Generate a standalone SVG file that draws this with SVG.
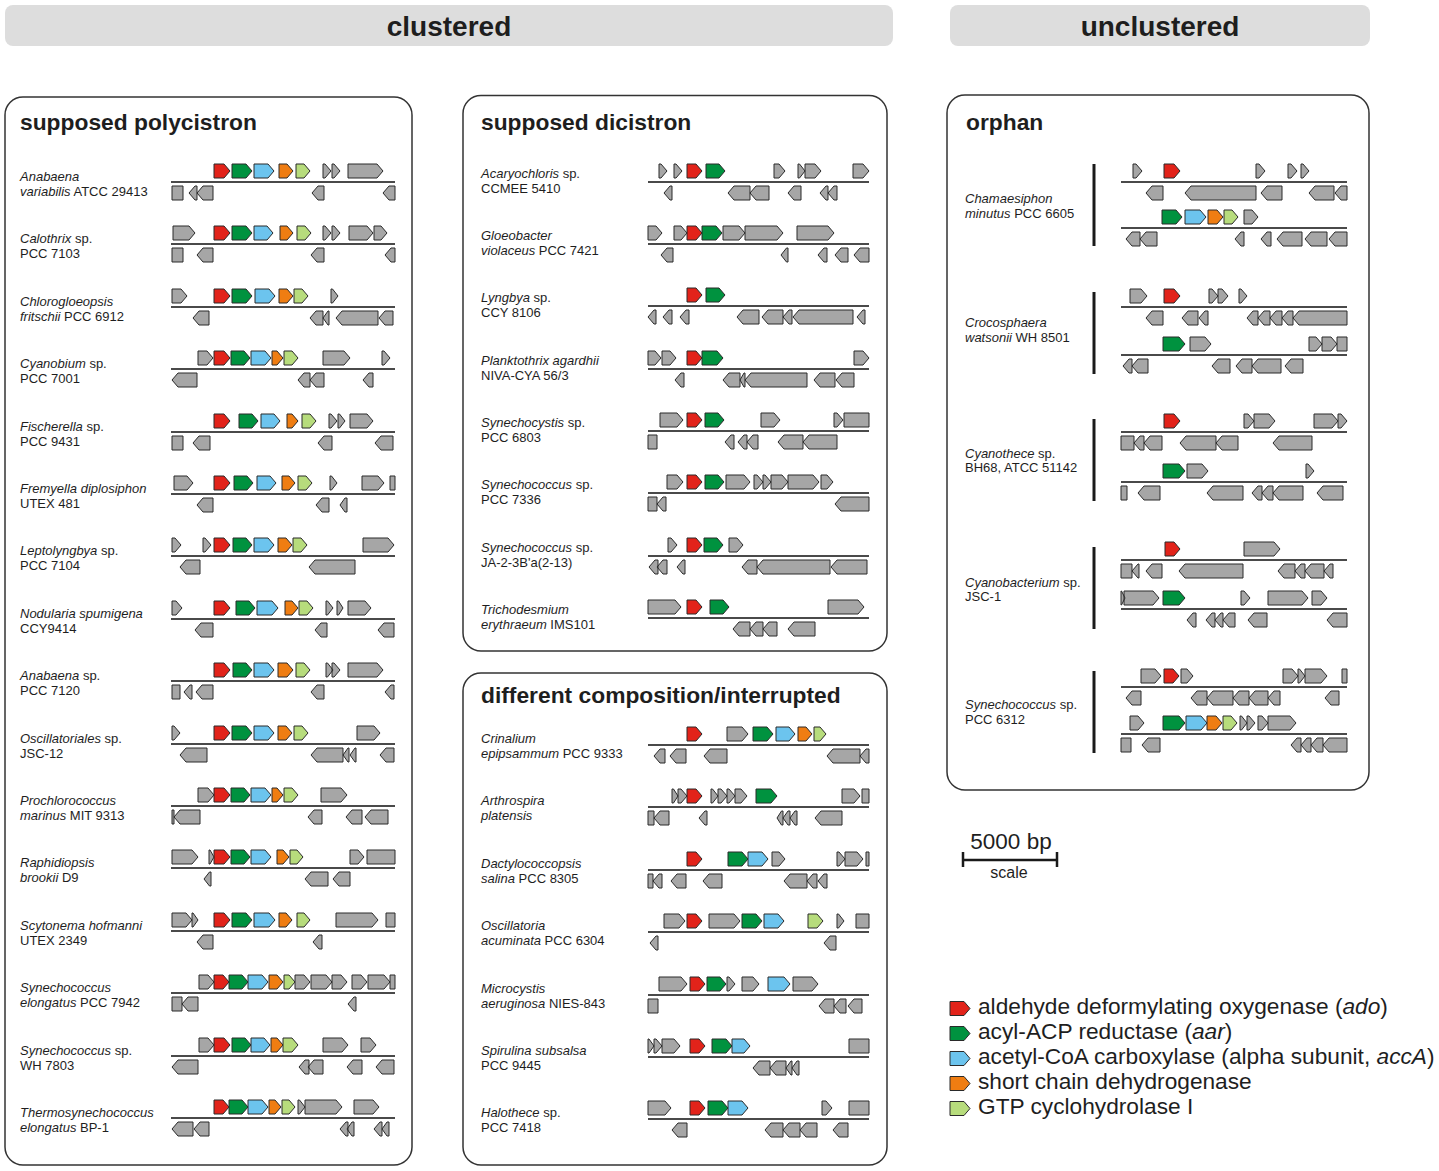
<svg xmlns="http://www.w3.org/2000/svg" width="1439" height="1171" viewBox="0 0 1439 1171">
<style>
.t{font-family:"Liberation Sans",Arial,sans-serif;fill:#1e1e1e}
.lb{font-size:13px}
.i{font-style:italic}
.h{font-size:28px;font-weight:bold;text-anchor:middle}
.pt{font-size:22.8px;font-weight:bold}
.box{fill:#fff;stroke:#333;stroke-width:1.5}
.hb{fill:#dddddd}
.ln{stroke:#4a4a4a;stroke-width:2;fill:none}
.g,.r,.n,.b,.o,.y{stroke:#2a2a2a;stroke-width:1}
.g{fill:#a6a6a6}.r{fill:#e2231a}.n{fill:#00923f}.b{fill:#6cc4ee}.o{fill:#ef7d12}.y{fill:#b7dc7c}
.vb{stroke:#1a1a1a;stroke-width:3}
.sc{stroke:#1a1a1a;stroke-width:2.5;fill:none}
.lg{font-size:22.7px}
</style>
<rect fill="#fff" x="0" y="0" width="1439" height="1171"/>
<g id="headers">
<rect class="hb" x="5" y="5" width="888" height="41" rx="8"/>
<text class="t h" x="449" y="36">clustered</text>
<rect class="hb" x="950" y="5" width="420" height="41" rx="8"/>
<text class="t h" x="1160" y="36">unclustered</text>
</g>

<g id="panel-polycistron">
<rect class="box" x="5" y="97" width="407" height="1068" rx="18"/>
<text class="t pt" x="20" y="130">supposed polycistron</text>
<g id="p1-r0" transform="translate(0,182)">
<text class="t lb" x="20" y="-1.5"><tspan class="i">Anabaena</tspan></text>
<text class="t lb" x="20" y="13.5"><tspan class="i">variabilis</tspan> ATCC 29413</text>
<path class="ln" d="M171 0H395"/>
<path class="r" d="M214-18H224L230-11L224-4H214Z"/>
<path class="n" d="M232-18H246L252-11L246-4H232Z"/>
<path class="b" d="M254-18H268L274-11L268-4H254Z"/>
<path class="o" d="M279-18H287L293-11L287-4H279Z"/>
<path class="y" d="M296-18H304L310-11L304-4H296Z"/>
<path class="g" d="M323-18H325L331-11L325-4H323Z M332-18H334L340-11L334-4H332Z M348-18H377L383-11L377-4H348Z M172 4H183V18H172Z M189 11L195 4H197V18H195Z M197 11L203 4H213V18H203Z M312 11L318 4H324V18H318Z M383 11L389 4H395V18H389Z"/>
</g>
<g id="p1-r1" transform="translate(0,244)">
<text class="t lb" x="20" y="-1.5"><tspan class="i">Calothrix</tspan> sp.</text>
<text class="t lb" x="20" y="13.5">PCC 7103</text>
<path class="ln" d="M171 0H395"/>
<path class="r" d="M214-18H224L230-11L224-4H214Z"/>
<path class="n" d="M232-18H246L252-11L246-4H232Z"/>
<path class="b" d="M254-18H267L273-11L267-4H254Z"/>
<path class="o" d="M280-18H287L293-11L287-4H280Z"/>
<path class="y" d="M297-18H305L311-11L305-4H297Z"/>
<path class="g" d="M173-18H189L195-11L189-4H173Z M323-18H325L331-11L325-4H323Z M332-18H334L340-11L334-4H332Z M349-18H367L373-11L367-4H349Z M374-18H381L387-11L381-4H374Z M172 4H183V18H172Z M197 11L203 4H213V18H203Z M311 11L317 4H324V18H317Z M385 11L391 4H395V18H391Z"/>
</g>
<g id="p1-r2" transform="translate(0,307)">
<text class="t lb" x="20" y="-1.5"><tspan class="i">Chlorogloeopsis</tspan></text>
<text class="t lb" x="20" y="13.5"><tspan class="i">fritschii</tspan> PCC 6912</text>
<path class="ln" d="M171 0H395"/>
<path class="r" d="M214-18H224L230-11L224-4H214Z"/>
<path class="n" d="M232-18H246L252-11L246-4H232Z"/>
<path class="b" d="M255-18H269L275-11L269-4H255Z"/>
<path class="o" d="M279-18H287L293-11L287-4H279Z"/>
<path class="y" d="M294-18H302L308-11L302-4H294Z"/>
<path class="g" d="M172-18H181L187-11L181-4H172Z M331-18H332.5L338-11L332.5-4H331Z M193 11L199 4H209V18H199Z M310 11L316 4H323V18H316Z M323 11L328 4H329V18H328Z M336 11L342 4H378V18H342Z M379 11L385 4H393V18H385Z"/>
</g>
<g id="p1-r3" transform="translate(0,369)">
<text class="t lb" x="20" y="-1.5"><tspan class="i">Cyanobium</tspan> sp.</text>
<text class="t lb" x="20" y="13.5">PCC 7001</text>
<path class="ln" d="M171 0H395"/>
<path class="r" d="M214-18H224L230-11L224-4H214Z"/>
<path class="n" d="M231-18H244L250-11L244-4H231Z"/>
<path class="b" d="M251-18H265L271-11L265-4H251Z"/>
<path class="o" d="M272-18H277L283-11L277-4H272Z"/>
<path class="y" d="M284-18H292L298-11L292-4H284Z"/>
<path class="g" d="M198-18H207L213-11L207-4H198Z M323-18H344L350-11L344-4H323Z M382-18H384L390-11L384-4H382Z M172 11L178 4H197V18H178Z M298 11L304 4H310V18H304Z M310 11L316 4H324V18H316Z M363 11L369 4H373V18H369Z"/>
</g>
<g id="p1-r4" transform="translate(0,432)">
<text class="t lb" x="20" y="-1.5"><tspan class="i">Fischerella</tspan> sp.</text>
<text class="t lb" x="20" y="13.5">PCC 9431</text>
<path class="ln" d="M171 0H395"/>
<path class="r" d="M214-18H224L230-11L224-4H214Z"/>
<path class="n" d="M239-18H252L258-11L252-4H239Z"/>
<path class="b" d="M261-18H274L280-11L274-4H261Z"/>
<path class="o" d="M287-18H292L298-11L292-4H287Z"/>
<path class="y" d="M302-18H310L316-11L310-4H302Z"/>
<path class="g" d="M329-18H331L337-11L331-4H329Z M338-18H339.5L345-11L339.5-4H338Z M350-18H367L373-11L367-4H350Z M172 4H183V18H172Z M193 11L199 4H210V18H199Z M318 11L324 4H332V18H324Z M375 11L381 4H393V18H381Z"/>
</g>
<g id="p1-r5" transform="translate(0,494)">
<text class="t lb" x="20" y="-1.5"><tspan class="i">Fremyella diplosiphon</tspan></text>
<text class="t lb" x="20" y="13.5">UTEX 481</text>
<path class="ln" d="M171 0H395"/>
<path class="r" d="M214-18H224L230-11L224-4H214Z"/>
<path class="n" d="M234-18H247L253-11L247-4H234Z"/>
<path class="b" d="M257-18H270L276-11L270-4H257Z"/>
<path class="o" d="M282-18H289L295-11L289-4H282Z"/>
<path class="y" d="M298-18H306L312-11L306-4H298Z"/>
<path class="g" d="M174-18H187L193-11L187-4H174Z M330-18H331.5L337-11L331.5-4H330Z M362-18H378L384-11L378-4H362Z M390-18H395V-4H390Z M197 11L203 4H213V18H203Z M316 11L322 4H329V18H322Z M340 11L345 4H347V18H345Z"/>
</g>
<g id="p1-r6" transform="translate(0,556)">
<text class="t lb" x="20" y="-1.5"><tspan class="i">Leptolyngbya</tspan> sp.</text>
<text class="t lb" x="20" y="13.5">PCC 7104</text>
<path class="ln" d="M171 0H395"/>
<path class="r" d="M214-18H224L230-11L224-4H214Z"/>
<path class="n" d="M233-18H246L252-11L246-4H233Z"/>
<path class="b" d="M254-18H268L274-11L268-4H254Z"/>
<path class="o" d="M278-18H286L292-11L286-4H278Z"/>
<path class="y" d="M293-18H301L307-11L301-4H293Z"/>
<path class="g" d="M172-18H175L181-11L175-4H172Z M203-18H205L211-11L205-4H203Z M363-18H388L394-11L388-4H363Z M180 11L186 4H200V18H186Z M309 11L315 4H355V18H315Z"/>
</g>
<g id="p1-r7" transform="translate(0,619)">
<text class="t lb" x="20" y="-1.5"><tspan class="i">Nodularia spumigena</tspan></text>
<text class="t lb" x="20" y="13.5">CCY9414</text>
<path class="ln" d="M171 0H395"/>
<path class="r" d="M214-18H224L230-11L224-4H214Z"/>
<path class="n" d="M236-18H249L255-11L249-4H236Z"/>
<path class="b" d="M257-18H272L278-11L272-4H257Z"/>
<path class="o" d="M285-18H292L298-11L292-4H285Z"/>
<path class="y" d="M299-18H307L313-11L307-4H299Z"/>
<path class="g" d="M172-18H176L182-11L176-4H172Z M326-18H327.5L333-11L327.5-4H326Z M337-18H338.5L343-11L338.5-4H337Z M348-18H365L371-11L365-4H348Z M195 11L201 4H213V18H201Z M315 11L321 4H327V18H321Z M378 11L384 4H394V18H384Z"/>
</g>
<g id="p1-r8" transform="translate(0,681)">
<text class="t lb" x="20" y="-1.5"><tspan class="i">Anabaena</tspan> sp.</text>
<text class="t lb" x="20" y="13.5">PCC 7120</text>
<path class="ln" d="M171 0H395"/>
<path class="r" d="M214-18H224L230-11L224-4H214Z"/>
<path class="n" d="M233-18H246L252-11L246-4H233Z"/>
<path class="b" d="M254-18H268L274-11L268-4H254Z"/>
<path class="o" d="M278-18H287L293-11L287-4H278Z"/>
<path class="y" d="M296-18H304L310-11L304-4H296Z"/>
<path class="g" d="M326-18H327.5L333-11L327.5-4H326Z M332-18H334L340-11L334-4H332Z M348-18H377L383-11L377-4H348Z M172 4H180V18H172Z M184 11L190 4H192V18H190Z M196 11L202 4H213V18H202Z M311 11L317 4H324V18H317Z M385 11L391 4H394V18H391Z"/>
</g>
<g id="p1-r9" transform="translate(0,744)">
<text class="t lb" x="20" y="-1.5"><tspan class="i">Oscillatoriales</tspan> sp.</text>
<text class="t lb" x="20" y="13.5">JSC-12</text>
<path class="ln" d="M171 0H395"/>
<path class="r" d="M214-18H224L230-11L224-4H214Z"/>
<path class="n" d="M232-18H246L252-11L246-4H232Z"/>
<path class="b" d="M254-18H268L274-11L268-4H254Z"/>
<path class="o" d="M278-18H286L292-11L286-4H278Z"/>
<path class="y" d="M294-18H302L308-11L302-4H294Z"/>
<path class="g" d="M172-18H174L180-11L174-4H172Z M357-18H374L380-11L374-4H357Z M180 11L186 4H207V18H186Z M311 11L317 4H343V18H317Z M343 11L348 4H349V18H348Z M350 11L355 4H356V18H355Z M380 11L386 4H394V18H386Z"/>
</g>
<g id="p1-r10" transform="translate(0,806)">
<text class="t lb" x="20" y="-1.5"><tspan class="i">Prochlorococcus</tspan></text>
<text class="t lb" x="20" y="13.5"><tspan class="i">marinus</tspan> MIT 9313</text>
<path class="ln" d="M171 0H395"/>
<path class="r" d="M214-18H224L230-11L224-4H214Z"/>
<path class="n" d="M231-18H244L250-11L244-4H231Z"/>
<path class="b" d="M251-18H265L271-11L265-4H251Z"/>
<path class="o" d="M272-18H277L283-11L277-4H272Z"/>
<path class="y" d="M284-18H292L298-11L292-4H284Z"/>
<path class="g" d="M198-18H208L214-11L208-4H198Z M321-18H341L347-11L341-4H321Z M172 4H174V18H172Z M174 11L180 4H200V18H180Z M308 11L314 4H322V18H314Z M346 11L352 4H362V18H352Z M365 11L371 4H388V18H371Z"/>
</g>
<g id="p1-r11" transform="translate(0,868)">
<text class="t lb" x="20" y="-1.5"><tspan class="i">Raphidiopsis</tspan></text>
<text class="t lb" x="20" y="13.5"><tspan class="i">brookii</tspan> D9</text>
<path class="ln" d="M171 0H395"/>
<path class="r" d="M214-18H224L230-11L224-4H214Z"/>
<path class="n" d="M231-18H244L250-11L244-4H231Z"/>
<path class="b" d="M251-18H265L271-11L265-4H251Z"/>
<path class="o" d="M277-18H283L289-11L283-4H277Z"/>
<path class="y" d="M290-18H297L303-11L297-4H290Z"/>
<path class="g" d="M172-18H192L198-11L192-4H172Z M209-18H210L214-11L210-4H209Z M350-18H358L364-11L358-4H350Z M367-18H395V-4H367Z M204 11L209.5 4H211V18H209.5Z M305 11L311 4H328V18H311Z M333 11L339 4H350V18H339Z"/>
</g>
<g id="p1-r12" transform="translate(0,931)">
<text class="t lb" x="20" y="-1.5"><tspan class="i">Scytonema hofmanni</tspan></text>
<text class="t lb" x="20" y="13.5">UTEX 2349</text>
<path class="ln" d="M171 0H395"/>
<path class="r" d="M214-18H224L230-11L224-4H214Z"/>
<path class="n" d="M232-18H246L252-11L246-4H232Z"/>
<path class="b" d="M254-18H269L275-11L269-4H254Z"/>
<path class="o" d="M279-18H286L292-11L286-4H279Z"/>
<path class="y" d="M297-18H304L310-11L304-4H297Z"/>
<path class="g" d="M172-18H186L192-11L186-4H172Z M192-18H193L198-11L193-4H192Z M336-18H372L378-11L372-4H336Z M386-18H395V-4H386Z M197 11L203 4H213V18H203Z M313 11L319 4H322V18H319Z"/>
</g>
<g id="p1-r13" transform="translate(0,993)">
<text class="t lb" x="20" y="-1.5"><tspan class="i">Synechococcus</tspan></text>
<text class="t lb" x="20" y="13.5"><tspan class="i">elongatus</tspan> PCC 7942</text>
<path class="ln" d="M171 0H395"/>
<path class="r" d="M214-18H223L229-11L223-4H214Z"/>
<path class="n" d="M229-18H242L248-11L242-4H229Z"/>
<path class="b" d="M248-18H262L268-11L262-4H248Z"/>
<path class="o" d="M269-18H277L283-11L277-4H269Z"/>
<path class="y" d="M284-18H289L295-11L289-4H284Z"/>
<path class="g" d="M199-18H208L214-11L208-4H199Z M295-18H304L310-11L304-4H295Z M311-18H326L332-11L326-4H311Z M332-18H341L347-11L341-4H332Z M352-18H361L367-11L361-4H352Z M368-18H384L390-11L384-4H368Z M390-18H395V-4H390Z M172 4H182V18H172Z M182 11L188 4H198V18H188Z M348 11L354 4H356V18H354Z"/>
</g>
<g id="p1-r14" transform="translate(0,1056)">
<text class="t lb" x="20" y="-1.5"><tspan class="i">Synechococcus</tspan> sp.</text>
<text class="t lb" x="20" y="13.5">WH 7803</text>
<path class="ln" d="M171 0H395"/>
<path class="r" d="M214-18H224L230-11L224-4H214Z"/>
<path class="n" d="M232-18H245L251-11L245-4H232Z"/>
<path class="b" d="M251-18H264L270-11L264-4H251Z"/>
<path class="o" d="M271-18H277L283-11L277-4H271Z"/>
<path class="y" d="M283-18H292L298-11L292-4H283Z"/>
<path class="g" d="M199-18H208L214-11L208-4H199Z M323-18H342L348-11L342-4H323Z M361-18H370L376-11L370-4H361Z M172 11L178 4H198V18H178Z M299 11L305 4H309V18H305Z M308 11L314 4H323V18H314Z M347 11L353 4H362V18H353Z M376 11L382 4H394V18H382Z"/>
</g>
<g id="p1-r15" transform="translate(0,1118)">
<text class="t lb" x="20" y="-1.5"><tspan class="i">Thermosynechococcus</tspan></text>
<text class="t lb" x="20" y="13.5"><tspan class="i">elongatus</tspan> BP-1</text>
<path class="ln" d="M171 0H395"/>
<path class="r" d="M214-18H223L229-11L223-4H214Z"/>
<path class="n" d="M229-18H242L248-11L242-4H229Z"/>
<path class="b" d="M248-18H262L268-11L262-4H248Z"/>
<path class="o" d="M269-18H275L281-11L275-4H269Z"/>
<path class="y" d="M282-18H289L295-11L289-4H282Z"/>
<path class="g" d="M298-18H299.5L305-11L299.5-4H298Z M305-18H336L342-11L336-4H305Z M354-18H373L379-11L373-4H354Z M172 11L178 4H193V18H178Z M194 11L200 4H209V18H200Z M340 11L346 4H348V18H346Z M347 11L352 4H354V18H352Z M374 11L380 4H382V18H380Z M382 11L387 4H389V18H387Z"/>
</g>
</g>

<g id="panel-dicistron">
<rect class="box" x="463" y="95.5" width="424" height="555.5" rx="18"/>
<text class="t pt" x="481" y="130">supposed dicistron</text>
<g id="p2-r0" transform="translate(0,182)">
<text class="t lb" x="481" y="-4"><tspan class="i">Acaryochloris</tspan> sp.</text>
<text class="t lb" x="481" y="11">CCMEE 5410</text>
<path class="ln" d="M648 0H869"/>
<path class="r" d="M687-18H696L702-11L696-4H687Z"/>
<path class="n" d="M706-18H719L725-11L719-4H706Z"/>
<path class="g" d="M659-18H661L667-11L661-4H659Z M674-18H676L682-11L676-4H674Z M774-18H779L785-11L779-4H774Z M798-18H799.5L805-11L799.5-4H798Z M805-18H815L821-11L815-4H805Z M853-18H863L869-11L863-4H853Z M664 11L670 4H672V18H670Z M728 11L734 4H750V18H734Z M750 11L756 4H769V18H756Z M788 11L794 4H801V18H794Z M820 11L826 4H828V18H826Z M828 11L834 4H837V18H834Z"/>
</g>
<g id="p2-r1" transform="translate(0,244)">
<text class="t lb" x="481" y="-4"><tspan class="i">Gloeobacter</tspan></text>
<text class="t lb" x="481" y="11"><tspan class="i">violaceus</tspan> PCC 7421</text>
<path class="ln" d="M648 0H869"/>
<path class="r" d="M687-18H696L702-11L696-4H687Z"/>
<path class="n" d="M702-18H716L722-11L716-4H702Z"/>
<path class="g" d="M648-18H656L662-11L656-4H648Z M674-18H681L687-11L681-4H674Z M723-18H739L745-11L739-4H723Z M745-18H777L783-11L777-4H745Z M797-18H828L834-11L828-4H797Z M661 11L667 4H673V18H667Z M781 11L786.5 4H788V18H786.5Z M818 11L824 4H827V18H824Z M835 11L841 4H848V18H841Z M854 11L860 4H869V18H860Z"/>
</g>
<g id="p2-r2" transform="translate(0,306)">
<text class="t lb" x="481" y="-4"><tspan class="i">Lyngbya</tspan> sp.</text>
<text class="t lb" x="481" y="11">CCY 8106</text>
<path class="ln" d="M648 0H869"/>
<path class="r" d="M687-18H696L702-11L696-4H687Z"/>
<path class="n" d="M706-18H719L725-11L719-4H706Z"/>
<path class="g" d="M648 11L654 4H656V18H654Z M663 11L669 4H672V18H669Z M680 11L686 4H689V18H686Z M737 11L743 4H759V18H743Z M762 11L768 4H783V18H768Z M783 11L789 4H792V18H789Z M793 11L799 4H853V18H799Z M857 11L863 4H865V18H863Z"/>
</g>
<g id="p2-r3" transform="translate(0,369)">
<text class="t lb" x="481" y="-4"><tspan class="i">Planktothrix agardhii</tspan></text>
<text class="t lb" x="481" y="11">NIVA-CYA 56/3</text>
<path class="ln" d="M648 0H869"/>
<path class="r" d="M687-18H696L702-11L696-4H687Z"/>
<path class="n" d="M702-18H717L723-11L717-4H702Z"/>
<path class="g" d="M648-18H655L661-11L655-4H648Z M662-18H670L676-11L670-4H662Z M854-18H863L869-11L863-4H854Z M675 11L681 4H684V18H681Z M723 11L729 4H740V18H729Z M740 11L744 4H745V18H744Z M745 11L751 4H807V18H751Z M814 11L820 4H835V18H820Z M836 11L842 4H854V18H842Z"/>
</g>
<g id="p2-r4" transform="translate(0,431)">
<text class="t lb" x="481" y="-4"><tspan class="i">Synechocystis</tspan> sp.</text>
<text class="t lb" x="481" y="11">PCC 6803</text>
<path class="ln" d="M648 0H869"/>
<path class="r" d="M687-18H696L702-11L696-4H687Z"/>
<path class="n" d="M705-18H718L724-11L718-4H705Z"/>
<path class="g" d="M660-18H677L683-11L677-4H660Z M761-18H774L780-11L774-4H761Z M834-18H837L843-11L837-4H834Z M844-18H869V-4H844Z M648 4H657V18H648Z M725 11L731 4H734V18H731Z M738 11L744 4H747V18H744Z M747 11L753 4H758V18H753Z M778 11L784 4H803V18H784Z M803 11L809 4H837V18H809Z"/>
</g>
<g id="p2-r5" transform="translate(0,493)">
<text class="t lb" x="481" y="-4"><tspan class="i">Synechococcus</tspan> sp.</text>
<text class="t lb" x="481" y="11">PCC 7336</text>
<path class="ln" d="M648 0H869"/>
<path class="r" d="M687-18H696L702-11L696-4H687Z"/>
<path class="n" d="M705-18H718L724-11L718-4H705Z"/>
<path class="g" d="M667-18H677L683-11L677-4H667Z M726-18H744L750-11L744-4H726Z M754-18H757L763-11L757-4H754Z M763-18H765L771-11L765-4H763Z M771-18H782L788-11L782-4H771Z M788-18H813L819-11L813-4H788Z M821-18H827L833-11L827-4H821Z M648 4H657V18H648Z M657 11L663 4H666V18H663Z M835 11L841 4H869V18H841Z"/>
</g>
<g id="p2-r6" transform="translate(0,556)">
<text class="t lb" x="481" y="-4"><tspan class="i">Synechococcus</tspan> sp.</text>
<text class="t lb" x="481" y="11">JA-2-3B'a(2-13)</text>
<path class="ln" d="M648 0H869"/>
<path class="r" d="M687-18H696L702-11L696-4H687Z"/>
<path class="n" d="M704-18H717L723-11L717-4H704Z"/>
<path class="g" d="M668-18H671L677-11L671-4H668Z M729-18H737L743-11L737-4H729Z M649 11L655 4H658V18H655Z M657 11L663 4H667V18H663Z M677 11L683 4H685V18H683Z M742 11L748 4H757V18H748Z M757 11L763 4H830V18H763Z M831 11L837 4H867V18H837Z"/>
</g>
<g id="p2-r7" transform="translate(0,618)">
<text class="t lb" x="481" y="-4"><tspan class="i">Trichodesmium</tspan></text>
<text class="t lb" x="481" y="11"><tspan class="i">erythraeum</tspan> IMS101</text>
<path class="ln" d="M648 0H869"/>
<path class="r" d="M687-18H696L702-11L696-4H687Z"/>
<path class="n" d="M710-18H723L729-11L723-4H710Z"/>
<path class="g" d="M648-18H675L681-11L675-4H648Z M828-18H858L864-11L858-4H828Z M733 11L739 4H750V18H739Z M750 11L756 4H763V18H756Z M763 11L769 4H777V18H769Z M788 11L794 4H815V18H794Z"/>
</g>
</g>

<g id="panel-different">
<rect class="box" x="463" y="673" width="424" height="492" rx="18"/>
<text class="t pt" x="481" y="703">different composition/interrupted</text>
<g id="p3-r0" transform="translate(0,745)">
<text class="t lb" x="481" y="-2.5"><tspan class="i">Crinalium</tspan></text>
<text class="t lb" x="481" y="12.5"><tspan class="i">epipsammum</tspan> PCC 9333</text>
<path class="ln" d="M648 0H869"/>
<path class="r" d="M687-18H696L702-11L696-4H687Z"/>
<path class="n" d="M753-18H767L773-11L767-4H753Z"/>
<path class="b" d="M776-18H789L795-11L789-4H776Z"/>
<path class="o" d="M798-18H806L812-11L806-4H798Z"/>
<path class="y" d="M814-18H820L826-11L820-4H814Z"/>
<path class="g" d="M727-18H742L748-11L742-4H727Z M654 11L660 4H665V18H660Z M670 11L676 4H686V18H676Z M704 11L710 4H727V18H710Z M827 11L833 4H860V18H833Z M860 11L866 4H869V18H866Z"/>
</g>
<g id="p3-r1" transform="translate(0,807)">
<text class="t lb" x="481" y="-2.5"><tspan class="i">Arthrospira</tspan></text>
<text class="t lb" x="481" y="12.5"><tspan class="i">platensis</tspan></text>
<path class="ln" d="M648 0H869"/>
<path class="r" d="M687-18H696L702-11L696-4H687Z"/>
<path class="n" d="M756-18H771L777-11L771-4H756Z"/>
<path class="g" d="M672-18H673.5L678-11L673.5-4H672Z M678-18H681L687-11L681-4H678Z M711-18H712.5L718-11L712.5-4H711Z M718-18H721L727-11L721-4H718Z M727-18H729L735-11L729-4H727Z M735-18H741L747-11L741-4H735Z M842-18H854L860-11L854-4H842Z M862-18H869V-4H862Z M648 4H654V18H648Z M654 11L660 4H669V18H660Z M699 11L705 4H707V18H705Z M777 11L781.5 4H783V18H781.5Z M783 11L788 4H790V18H788Z M790 11L795 4H797V18H795Z M815 11L821 4H842V18H821Z"/>
</g>
<g id="p3-r2" transform="translate(0,870)">
<text class="t lb" x="481" y="-2.5"><tspan class="i">Dactylococcopsis</tspan></text>
<text class="t lb" x="481" y="12.5"><tspan class="i">salina</tspan> PCC 8305</text>
<path class="ln" d="M648 0H869"/>
<path class="r" d="M687-18H696L702-11L696-4H687Z"/>
<path class="n" d="M728-18H742L748-11L742-4H728Z"/>
<path class="b" d="M748-18H762L768-11L762-4H748Z"/>
<path class="g" d="M772-18H779L785-11L779-4H772Z M837-18H839L845-11L839-4H837Z M845-18H857L863-11L857-4H845Z M866-18H869V-4H866Z M648 4H653V18H648Z M653 11L659 4H662V18H659Z M671 11L677 4H686V18H677Z M703 11L709 4H722V18H709Z M784 11L790 4H807V18H790Z M807 11L813 4H817V18H813Z M818 11L824 4H827V18H824Z"/>
</g>
<g id="p3-r3" transform="translate(0,932)">
<text class="t lb" x="481" y="-2.5"><tspan class="i">Oscillatoria</tspan></text>
<text class="t lb" x="481" y="12.5"><tspan class="i">acuminata</tspan> PCC 6304</text>
<path class="ln" d="M648 0H869"/>
<path class="r" d="M687-18H696L702-11L696-4H687Z"/>
<path class="n" d="M742-18H756L762-11L756-4H742Z"/>
<path class="b" d="M764-18H778L784-11L778-4H764Z"/>
<path class="y" d="M808-18H817L823-11L817-4H808Z"/>
<path class="g" d="M664-18H679L685-11L679-4H664Z M709-18H734L740-11L734-4H709Z M837-18H838.5L844-11L838.5-4H837Z M856-18H869V-4H856Z M650 11L656 4H658V18H656Z M824 11L830 4H836V18H830Z"/>
</g>
<g id="p3-r4" transform="translate(0,995)">
<text class="t lb" x="481" y="-2.5"><tspan class="i">Microcystis</tspan></text>
<text class="t lb" x="481" y="12.5"><tspan class="i">aeruginosa</tspan> NIES-843</text>
<path class="ln" d="M648 0H869"/>
<path class="r" d="M690-18H699L705-11L699-4H690Z"/>
<path class="n" d="M707-18H720L726-11L720-4H707Z"/>
<path class="b" d="M768-18H784L790-11L784-4H768Z"/>
<path class="g" d="M659-18H681L687-11L681-4H659Z M727-18H729L735-11L729-4H727Z M742-18H753L759-11L753-4H742Z M793-18H812L818-11L812-4H793Z M648 4H658V18H648Z M819 11L825 4H834V18H825Z M834 11L840 4H846V18H840Z M848 11L854 4H862V18H854Z"/>
</g>
<g id="p3-r5" transform="translate(0,1057)">
<text class="t lb" x="481" y="-2.5"><tspan class="i">Spirulina subsalsa</tspan></text>
<text class="t lb" x="481" y="12.5">PCC 9445</text>
<path class="ln" d="M648 0H869"/>
<path class="r" d="M690-18H699L705-11L699-4H690Z"/>
<path class="n" d="M712-18H726L732-11L726-4H712Z"/>
<path class="b" d="M732-18H744L750-11L744-4H732Z"/>
<path class="g" d="M648-18H649L654-11L649-4H648Z M654-18H656L662-11L656-4H654Z M662-18H674L680-11L674-4H662Z M849-18H869V-4H849Z M753 11L759 4H770V18H759Z M770 11L776 4H786V18H776Z M786 11L791 4H792V18H791Z M792 11L797 4H799V18H797Z"/>
</g>
<g id="p3-r6" transform="translate(0,1119)">
<text class="t lb" x="481" y="-2.5"><tspan class="i">Halothece</tspan> sp.</text>
<text class="t lb" x="481" y="12.5">PCC 7418</text>
<path class="ln" d="M648 0H869"/>
<path class="r" d="M690-18H699L705-11L699-4H690Z"/>
<path class="n" d="M708-18H722L728-11L722-4H708Z"/>
<path class="b" d="M728-18H742L748-11L742-4H728Z"/>
<path class="g" d="M648-18H665L671-11L665-4H648Z M822-18H826L832-11L826-4H822Z M849-18H869V-4H849Z M672 11L678 4H687V18H678Z M765 11L771 4H783V18H771Z M783 11L789 4H800V18H789Z M800 11L806 4H817V18H806Z M833 11L839 4H848V18H839Z"/>
</g>
</g>

<g id="panel-orphan">
<rect class="box" x="947" y="95" width="422" height="695" rx="18"/>
<text class="t pt" x="966" y="130">orphan</text>
<g id="o-chamaesiphon">
<text class="t lb" x="965" y="203"><tspan class="i">Chamaesiphon</tspan></text>
<text class="t lb" x="965" y="218"><tspan class="i">minutus</tspan> PCC 6605</text>
<path class="vb" d="M1094 164V246"/>
<g transform="translate(0,182)">
<path class="ln" d="M1121 0H1347"/>
<path class="r" d="M1164-18H1174L1180-11L1174-4H1164Z"/>
<path class="g" d="M1133-18H1136L1142-11L1136-4H1133Z M1256-18H1259L1265-11L1259-4H1256Z M1288-18H1291L1297-11L1291-4H1288Z M1301-18H1303L1309-11L1303-4H1301Z M1146 11L1152 4H1163V18H1152Z M1185 11L1191 4H1256V18H1191Z M1261 11L1267 4H1282V18H1267Z M1309 11L1315 4H1334V18H1315Z M1335 11L1341 4H1347V18H1341Z"/>
</g>
<g transform="translate(0,228)">
<path class="ln" d="M1121 0H1347"/>
<path class="n" d="M1162-18H1176L1182-11L1176-4H1162Z"/>
<path class="b" d="M1185-18H1200L1206-11L1200-4H1185Z"/>
<path class="o" d="M1208-18H1217L1223-11L1217-4H1208Z"/>
<path class="y" d="M1224-18H1232L1238-11L1232-4H1224Z"/>
<path class="g" d="M1244-18H1252L1258-11L1252-4H1244Z M1126 11L1132 4H1140V18H1132Z M1140 11L1146 4H1157V18H1146Z M1235 11L1241 4H1244V18H1241Z M1261 11L1267 4H1271V18H1267Z M1277 11L1283 4H1302V18H1283Z M1305 11L1311 4H1327V18H1311Z M1329 11L1335 4H1347V18H1335Z"/>
</g>
</g>
<g id="o-crocosphaera">
<text class="t lb" x="965" y="327"><tspan class="i">Crocosphaera</tspan></text>
<text class="t lb" x="965" y="342"><tspan class="i">watsonii</tspan> WH 8501</text>
<path class="vb" d="M1094 292V374"/>
<g transform="translate(0,307)">
<path class="ln" d="M1121 0H1347"/>
<path class="r" d="M1164-18H1174L1180-11L1174-4H1164Z"/>
<path class="g" d="M1130-18H1141L1147-11L1141-4H1130Z M1209-18H1212L1218-11L1212-4H1209Z M1218-18H1222L1228-11L1222-4H1218Z M1239-18H1241L1247-11L1241-4H1239Z M1146 11L1152 4H1163V18H1152Z M1182 11L1188 4H1198V18H1188Z M1199 11L1205 4H1208V18H1205Z M1247 11L1253 4H1258V18H1253Z M1258 11L1264 4H1270V18H1264Z M1270 11L1276 4H1282V18H1276Z M1282 11L1288 4H1293V18H1288Z M1293 11L1299 4H1347V18H1299Z"/>
</g>
<g transform="translate(0,355)">
<path class="ln" d="M1121 0H1347"/>
<path class="n" d="M1163-18H1179L1185-11L1179-4H1163Z"/>
<path class="g" d="M1190-18H1205L1211-11L1205-4H1190Z M1309-18H1316L1322-11L1316-4H1309Z M1322-18H1331L1337-11L1331-4H1322Z M1337-18H1347V-4H1337Z M1123 11L1129 4H1132V18H1129Z M1132 11L1138 4H1148V18H1138Z M1212 11L1218 4H1230V18H1218Z M1236 11L1242 4H1252V18H1242Z M1252 11L1258 4H1281V18H1258Z M1285 11L1291 4H1303V18H1291Z"/>
</g>
</g>
<g id="o-cyanothece">
<text class="t lb" x="965" y="458"><tspan class="i">Cyanothece</tspan> sp.</text>
<text class="t lb" x="965" y="472">BH68, ATCC 51142</text>
<path class="vb" d="M1094 419V501"/>
<g transform="translate(0,432)">
<path class="ln" d="M1121 0H1347"/>
<path class="r" d="M1164-18H1174L1180-11L1174-4H1164Z"/>
<path class="g" d="M1244-18H1248L1254-11L1248-4H1244Z M1254-18H1269L1275-11L1269-4H1254Z M1314-18H1332L1338-11L1332-4H1314Z M1338-18H1341L1347-11L1341-4H1338Z M1121 4H1134V18H1121Z M1134 11L1140 4H1144V18H1140Z M1144 11L1150 4H1162V18H1150Z M1180 11L1186 4H1216V18H1186Z M1216 11L1222 4H1238V18H1222Z M1273 11L1279 4H1312V18H1279Z"/>
</g>
<g transform="translate(0,482)">
<path class="ln" d="M1121 0H1347"/>
<path class="n" d="M1163-18H1179L1185-11L1179-4H1163Z"/>
<path class="g" d="M1187-18H1202L1208-11L1202-4H1187Z M1306-18H1308L1314-11L1308-4H1306Z M1121 4H1127V18H1121Z M1138 11L1144 4H1160V18H1144Z M1207 11L1213 4H1243V18H1213Z M1252 11L1258 4H1262V18H1258Z M1262 11L1268 4H1273V18H1268Z M1273 11L1279 4H1303V18H1279Z M1317 11L1323 4H1343V18H1323Z"/>
</g>
</g>
<g id="o-cyanobacterium">
<text class="t lb" x="965" y="587"><tspan class="i">Cyanobacterium</tspan> sp.</text>
<text class="t lb" x="965" y="601">JSC-1</text>
<path class="vb" d="M1094 547V629"/>
<g transform="translate(0,560)">
<path class="ln" d="M1121 0H1347"/>
<path class="r" d="M1165-18H1174L1180-11L1174-4H1165Z"/>
<path class="g" d="M1244-18H1274L1280-11L1274-4H1244Z M1121 4H1132V18H1121Z M1132 11L1138 4H1139V18H1138Z M1146 11L1152 4H1162V18H1152Z M1179 11L1185 4H1243V18H1185Z M1278 11L1284 4H1295V18H1284Z M1295 11L1301 4H1305V18H1301Z M1305 11L1311 4H1324V18H1311Z M1324 11L1330 4H1333V18H1330Z"/>
</g>
<g transform="translate(0,609)">
<path class="ln" d="M1121 0H1347"/>
<path class="n" d="M1163-18H1179L1185-11L1179-4H1163Z"/>
<path class="g" d="M1121-18H1121.5L1125-11L1121.5-4H1121Z M1124-18H1153L1159-11L1153-4H1124Z M1241-18H1244L1250-11L1244-4H1241Z M1268-18H1302L1308-11L1302-4H1268Z M1312-18H1321L1327-11L1321-4H1312Z M1187 11L1193 4H1196V18H1193Z M1206 11L1212 4H1215V18H1212Z M1215 11L1221 4H1223V18H1221Z M1223 11L1229 4H1235V18H1229Z M1248 11L1254 4H1267V18H1254Z M1327 11L1333 4H1347V18H1333Z"/>
</g>
</g>
<g id="o-synechococcus">
<text class="t lb" x="965" y="709"><tspan class="i">Synechococcus</tspan> sp.</text>
<text class="t lb" x="965" y="724">PCC 6312</text>
<path class="vb" d="M1094 671V753"/>
<g transform="translate(0,687)">
<path class="ln" d="M1121 0H1347"/>
<path class="r" d="M1164-18H1173L1179-11L1173-4H1164Z"/>
<path class="g" d="M1141-18H1155L1161-11L1155-4H1141Z M1181-18H1187L1193-11L1187-4H1181Z M1283-18H1292L1298-11L1292-4H1283Z M1298-18H1299.5L1305-11L1299.5-4H1298Z M1305-18H1321L1327-11L1321-4H1305Z M1342-18H1347V-4H1342Z M1126 11L1132 4H1141V18H1132Z M1191 11L1197 4H1207V18H1197Z M1207 11L1213 4H1233V18H1213Z M1233 11L1239 4H1249V18H1239Z M1249 11L1255 4H1268V18H1255Z M1268 11L1274 4H1280V18H1274Z M1325 11L1331 4H1339V18H1331Z"/>
</g>
<g transform="translate(0,734)">
<path class="ln" d="M1121 0H1347"/>
<path class="n" d="M1163-18H1179L1185-11L1179-4H1163Z"/>
<path class="b" d="M1186-18H1201L1207-11L1201-4H1186Z"/>
<path class="o" d="M1207-18H1216L1222-11L1216-4H1207Z"/>
<path class="y" d="M1223-18H1231L1237-11L1231-4H1223Z"/>
<path class="g" d="M1130-18H1138L1144-11L1138-4H1130Z M1240-18H1241.5L1247-11L1241.5-4H1240Z M1247-18H1249L1255-11L1249-4H1247Z M1258-18H1262L1268-11L1262-4H1258Z M1268-18H1290L1296-11L1290-4H1268Z M1121 4H1131V18H1121Z M1142 11L1148 4H1160V18H1148Z M1291 11L1297 4H1301V18H1297Z M1301 11L1307 4H1311V18H1307Z M1311 11L1317 4H1323V18H1317Z M1323 11L1329 4H1347V18H1329Z"/>
</g>
</g>
</g>

<g id="scale">
<text class="t" x="1011" y="849" font-size="22.5" text-anchor="middle">5000 bp</text>
<path class="sc" d="M963 860H1057 M963 852V867 M1057 852V867"/>
<text class="t" x="1009" y="878" font-size="16" text-anchor="middle">scale</text>
</g>

<g id="legend">
<g id="leg-ado" transform="translate(0,1019.5)"><path class="r" d="M950-18H964L970-11L964-4H950Z"/></g>
<text class="t lg" x="978" y="1014">aldehyde deformylating oxygenase (<tspan class="i">ado</tspan>)</text>
<g id="leg-aar" transform="translate(0,1044.5)"><path class="n" d="M950-18H964L970-11L964-4H950Z"/></g>
<text class="t lg" x="978" y="1039">acyl-ACP reductase (<tspan class="i">aar</tspan>)</text>
<g id="leg-acca" transform="translate(0,1069.5)"><path class="b" d="M950-18H964L970-11L964-4H950Z"/></g>
<text class="t lg" x="978" y="1064">acetyl-CoA carboxylase (alpha subunit, <tspan class="i">accA</tspan>)</text>
<g id="leg-scd" transform="translate(0,1094.5)"><path class="o" d="M950-18H964L970-11L964-4H950Z"/></g>
<text class="t lg" x="978" y="1089">short chain dehydrogenase</text>
<g id="leg-gtp" transform="translate(0,1119.5)"><path class="y" d="M950-18H964L970-11L964-4H950Z"/></g>
<text class="t lg" x="978" y="1114">GTP cyclohydrolase I</text>
</g>
</svg>
